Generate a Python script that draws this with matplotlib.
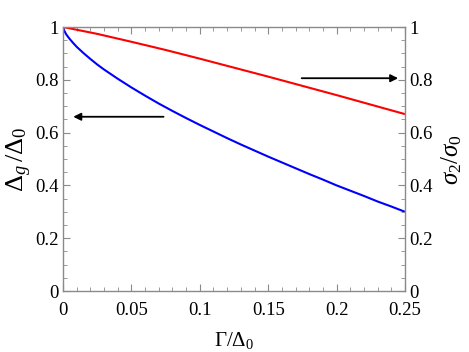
import numpy as np
import matplotlib
matplotlib.use("Agg")
import matplotlib.pyplot as plt
from matplotlib.ticker import MultipleLocator, FixedLocator

plt.rcParams['font.family'] = ['Liberation Serif', 'DejaVu Serif']
plt.rcParams['mathtext.fontset'] = 'custom'
plt.rcParams['mathtext.rm'] = 'Liberation Serif'
plt.rcParams['mathtext.it'] = 'Liberation Serif:italic'
plt.rcParams['mathtext.bf'] = 'Liberation Serif:bold'

# Data
gamma_blue = [0, 0.001, 0.0025, 0.005, 0.0075, 0.01, 0.015, 0.02, 0.025, 0.03,
              0.04, 0.05, 0.06, 0.07, 0.08, 0.09, 0.1, 0.11, 0.12, 0.13, 0.14,
              0.15, 0.16, 0.17, 0.18, 0.19, 0.2, 0.21, 0.22, 0.23, 0.24, 0.25]
gap_ratio = [1.0, 0.985, 0.971, 0.954, 0.939, 0.925, 0.901, 0.879, 0.858, 0.839,
             0.804, 0.771, 0.740, 0.710, 0.682, 0.655, 0.629, 0.604, 0.579, 0.555, 0.532,
             0.509, 0.487, 0.465, 0.443, 0.422, 0.400, 0.380, 0.360, 0.339, 0.320, 0.300]
gamma_red = [0, 0.025, 0.05, 0.075, 0.1, 0.125, 0.15, 0.175, 0.2, 0.225, 0.25]
sigma_ratio = [1.0, 0.974, 0.944, 0.913, 0.880, 0.846, 0.812, 0.777, 0.742, 0.706, 0.670]

x_ticks = [0, 0.05, 0.1, 0.15, 0.2, 0.25]
x_ticklabels = ['0', '0.05', '0.1', '0.15', '0.2', '0.25']
y_ticks = [0, 0.2, 0.4, 0.6, 0.8, 1.0]
y_ticklabels = ['0', '0.2', '0.4', '0.6', '0.8', '1']

fig = plt.figure(figsize=(4.69, 3.52), dpi=100)
ax = fig.add_axes([63/469, 1-291/352, (405-63)/469, (291-27)/352])

ax.plot(gamma_blue, gap_ratio, color='#0000ff', lw=1.5, solid_capstyle='butt')
ax.plot(gamma_red, sigma_ratio, color='#ff0000', lw=1.5, solid_capstyle='butt')

ax.set_xlim(0, 0.25)
ax.set_ylim(0, 1)

spine_col = '#8a8a8a'
for s in ax.spines.values():
    s.set_color(spine_col)
    s.set_linewidth(1.0)

ax.xaxis.set_major_locator(FixedLocator(x_ticks))
ax.set_xticklabels(x_ticklabels)
ax.xaxis.set_minor_locator(MultipleLocator(0.01))
ax.yaxis.set_major_locator(FixedLocator(y_ticks))
ax.set_yticklabels(y_ticklabels)
ax.yaxis.set_minor_locator(MultipleLocator(0.05))
ax.tick_params(which='both', direction='in', top=True, right=True, color=spine_col,
               labelsize=13.5, labelcolor='black', pad=3)
ax.tick_params(axis='x', which='both', pad=8)
ax.tick_params(which='major', length=5, width=0.8)
ax.tick_params(which='minor', length=3, width=0.6)

ax2 = ax.twinx()
ax2.set_ylim(0, 1)
ax2.yaxis.set_major_locator(FixedLocator(y_ticks))
ax2.set_yticklabels(y_ticklabels)
ax2.yaxis.set_minor_locator(MultipleLocator(0.05))
ax2.tick_params(which='both', direction='in', color=spine_col, labelsize=13.5, pad=3)
ax2.tick_params(which='major', length=5, width=0.8)
ax2.tick_params(which='minor', length=3, width=0.6)
for s in ax2.spines.values():
    s.set_visible(False)

ax.set_xlabel(r'$\mathit{\Gamma}/\Delta_{\mathit{0}}$', fontsize=15, labelpad=8)
ax.set_ylabel(r'$\Delta_{\mathit{g}}\,/\Delta_{\mathit{0}}$', fontsize=19, labelpad=1)
ax2.set_ylabel(r'$\mathit{\sigma}_{\mathit{2}}/\mathit{\sigma}_{\mathit{0}}$', fontsize=18,
               rotation=90, labelpad=5)

ax.annotate('', xy=(0.0075, 0.66), xytext=(0.0735, 0.66),
            arrowprops=dict(arrowstyle='-|>', color='black', lw=1.3,
                            mutation_scale=11, shrinkA=0, shrinkB=0))
ax.annotate('', xy=(0.245, 0.806), xytext=(0.1745, 0.806),
            arrowprops=dict(arrowstyle='-|>', color='black', lw=1.3,
                            mutation_scale=11, shrinkA=0, shrinkB=0))

fig.savefig('out.png', dpi=100)
